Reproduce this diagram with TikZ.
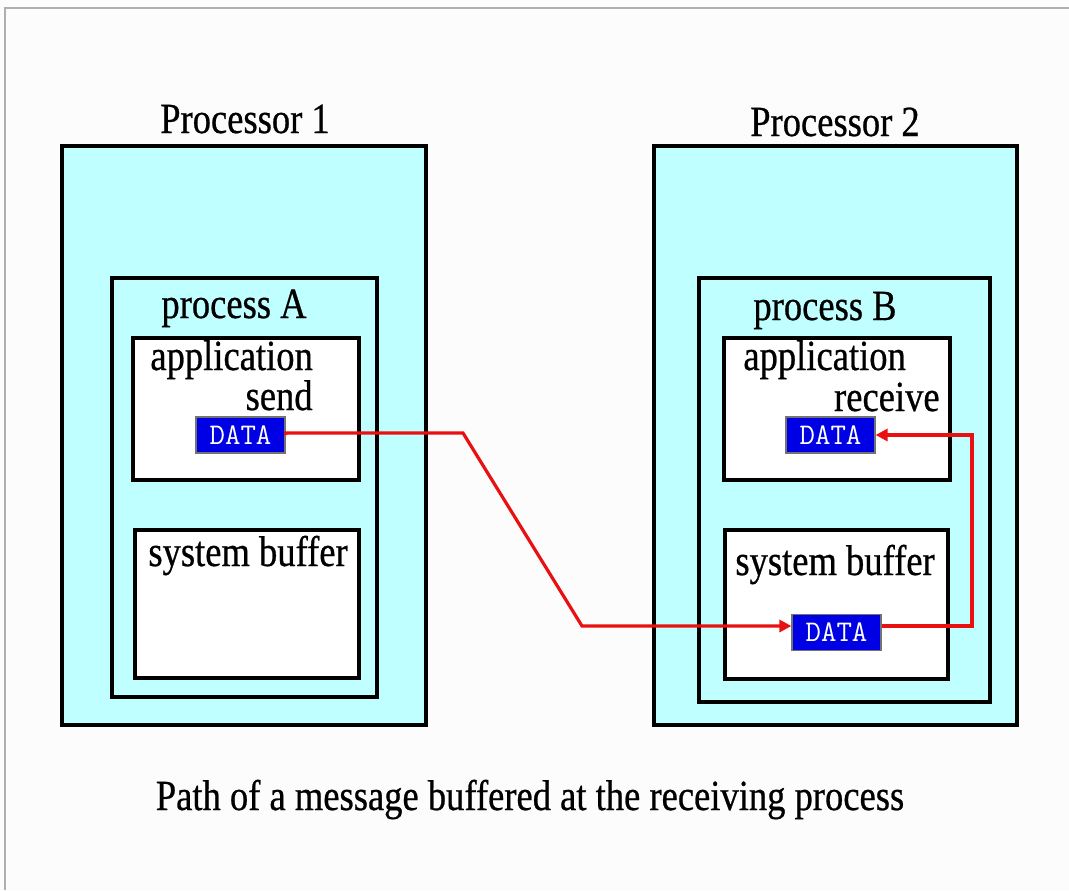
\documentclass[tikz,border=0pt]{standalone}
\usepackage{fontspec}
\setmainfont{Liberation Serif}[FakeStretch=0.85,FakeBold=0.6]
\usetikzlibrary{fit,arrows.meta}
\definecolor{cyanfill}{RGB}{192,255,255}
\definecolor{datablue}{RGB}{0,0,228}
\definecolor{msgred}{RGB}{232,16,16}
\definecolor{framegray}{RGB}{175,175,175}
\begin{document}
\begin{tikzpicture}[x=0.5pt,y=-0.5pt,
  procbox/.style={draw=black, fill=cyanfill, line width=2pt, inner sep=0pt},
  membox/.style={draw=black, fill=white, line width=2pt, inner sep=0pt},
  databox/.style={draw=black!55, fill=datablue, line width=0.6pt, inner sep=0pt,
     minimum width=44.5pt, minimum height=18pt, text=white,
     font=\ttfamily\fontsize{15}{15}\selectfont},
  lbl/.style={font=\fontsize{21.5}{24}\selectfont, inner sep=0pt},
  msg/.style={draw=msgred, line width=1.6pt},
  tip/.style={-{Triangle[length=6pt,width=6pt]}}
]
\useasboundingbox (0,0) rectangle (1069,890);
\fill[white!98!gray] (0,0) rectangle (1069,890);
\draw[framegray, line width=1pt] (5,890) -- (5,8) -- (1069,8);

% processors
\node[procbox, fit={(62,146) (426,725)}] (p1) {};
\node[procbox, fit={(654,146) (1017,725)}] (p2) {};
\node[lbl, anchor=base] (p1l) at (245,133) {Processor 1};
\node[lbl, anchor=base] (p2l) at (835,136) {Processor 2};

% processes
\node[procbox, fit={(112,278) (377,697)}] (pa) {};
\node[procbox, fit={(699,278) (990,702)}] (pb) {};
\node[lbl, anchor=base] (pal) at (234,318) {process A};
\node[lbl, anchor=base] (pbl) at (825,320) {process B};

% application boxes
\node[membox, fit={(133,338) (359,480)}] (appa) {};
\node[membox, fit={(724,338) (950,480)}] (appb) {};
\node[lbl, anchor=base west, text depth=0pt] (appal) at (150,370) {application};
\node[lbl, anchor=base east] (sendl) at (313,410) {send};
\node[lbl, anchor=base west, text depth=0pt] (appbl) at (743,370) {application};
\node[lbl, anchor=base east] (recvl) at (940,411) {receive};

% system buffers
\node[membox, fit={(135,530) (359,678)}] (sba) {};
\node[membox, fit={(725,530) (948,679)}] (sbb) {};
\node[lbl, anchor=base west] (sbal) at (148,566) {system buffer};
\node[lbl, anchor=base west] (sbbl) at (735,575) {system buffer};

% data boxes
\node[databox] (da) at (240.5,435) {DATA};
\node[databox] (dr) at (830.5,435) {DATA};
\node[databox] (db) at (836.5,632.5) {DATA};

\coordinate (c1) at (463,433);
\coordinate (c2) at (582,626);
\coordinate (c3) at (972,626);
\coordinate (c4) at (972,435);

\draw[msg, tip] (da.east) -- (c1 -| da.east) -- (c1) -- (c2) -- (c2 -| db.west);
\draw[msg, tip] (c3 -| db.east) -- (c3) -- (c4) -- (dr.east);
\node[lbl, anchor=base] (cap) at (530,810) {Path of a message buffered at the receiving process};
\end{tikzpicture}
\end{document}
